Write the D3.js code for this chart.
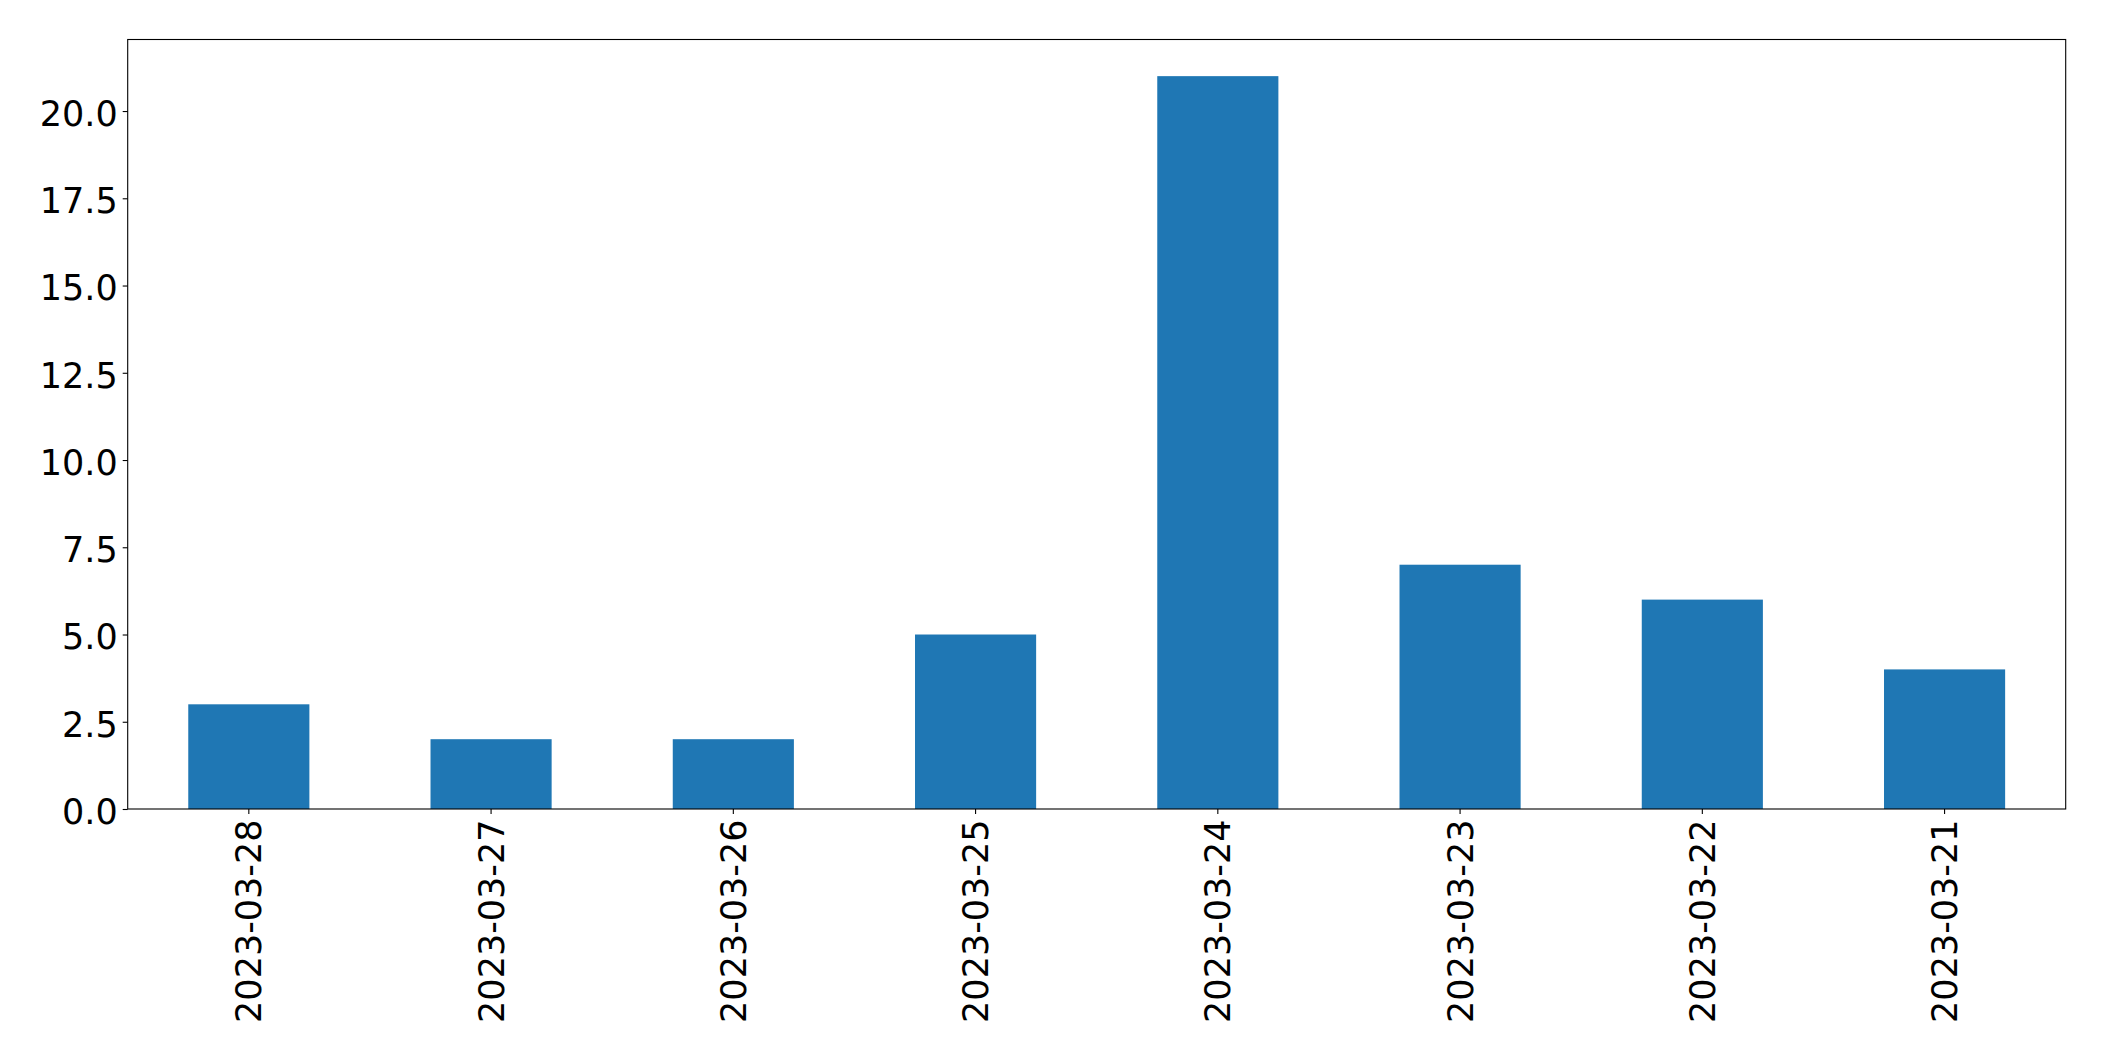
<!DOCTYPE html>
<html><head><meta charset="utf-8">
<script src="https://cdn.jsdelivr.net/npm/d3@7"></script>
<style>body{margin:0;background:#fff}svg{display:block}text{font-family:"DejaVu Sans",sans-serif;fill:#000}</style>
</head><body>
<script>
const categories = ["2023-03-28","2023-03-27","2023-03-26","2023-03-25","2023-03-24","2023-03-23","2023-03-22","2023-03-21"];
const values = [3,2,2,5,21,7,6,4];
const yTicks = [0,2.5,5,7.5,10,12.5,15,17.5,20];

const W=2104,H=1061;
const m={l:127.7,r:2104-2065.7,t:39.5,b:1061-809};
const svg=d3.select("body").append("svg").attr("width",W).attr("height",H);
const x=d3.scaleBand().domain(categories).range([m.l,W-m.r]).paddingInner(0.5).paddingOuter(0.25);
const y=d3.scaleLinear().domain([0,d3.max(values)*1.05]).range([H-m.b,m.t]);

svg.selectAll("rect.bar").data(values).enter().append("rect").attr("class","bar")
 .attr("x",(d,i)=>x(categories[i])).attr("width",x.bandwidth())
 .attr("y",d=>y(d)).attr("height",d=>y(0)-y(d)).attr("fill","#1f77b4");

const fs=35;
const ya=svg.append("g").attr("transform",`translate(${m.l},0)`)
 .call(d3.axisLeft(y).tickValues(yTicks).tickFormat(d3.format(".1f")).tickSize(5).tickPadding(5));
ya.select(".domain").remove();
ya.selectAll("line").attr("stroke","#000").attr("stroke-width",1.1);
ya.selectAll("text").attr("font-size",fs).attr("dy","0.41em");

const xa=svg.append("g").attr("transform",`translate(0,${H-m.b})`)
 .call(d3.axisBottom(x).tickSize(5).tickPadding(0));
xa.select(".domain").remove();
xa.selectAll("line").attr("stroke","#000").attr("stroke-width",1.1);
xa.selectAll("text").attr("font-size",fs).attr("text-anchor","end")
 .attr("transform","translate(0,10.5) rotate(-90)").attr("x",0).attr("y",0).attr("dy","0.36em");

svg.append("rect").attr("x",m.l).attr("y",m.t).attr("width",W-m.r-m.l).attr("height",H-m.b-m.t)
 .attr("fill","none").attr("stroke","#000").attr("stroke-width",1.1);
</script>
</body></html>
